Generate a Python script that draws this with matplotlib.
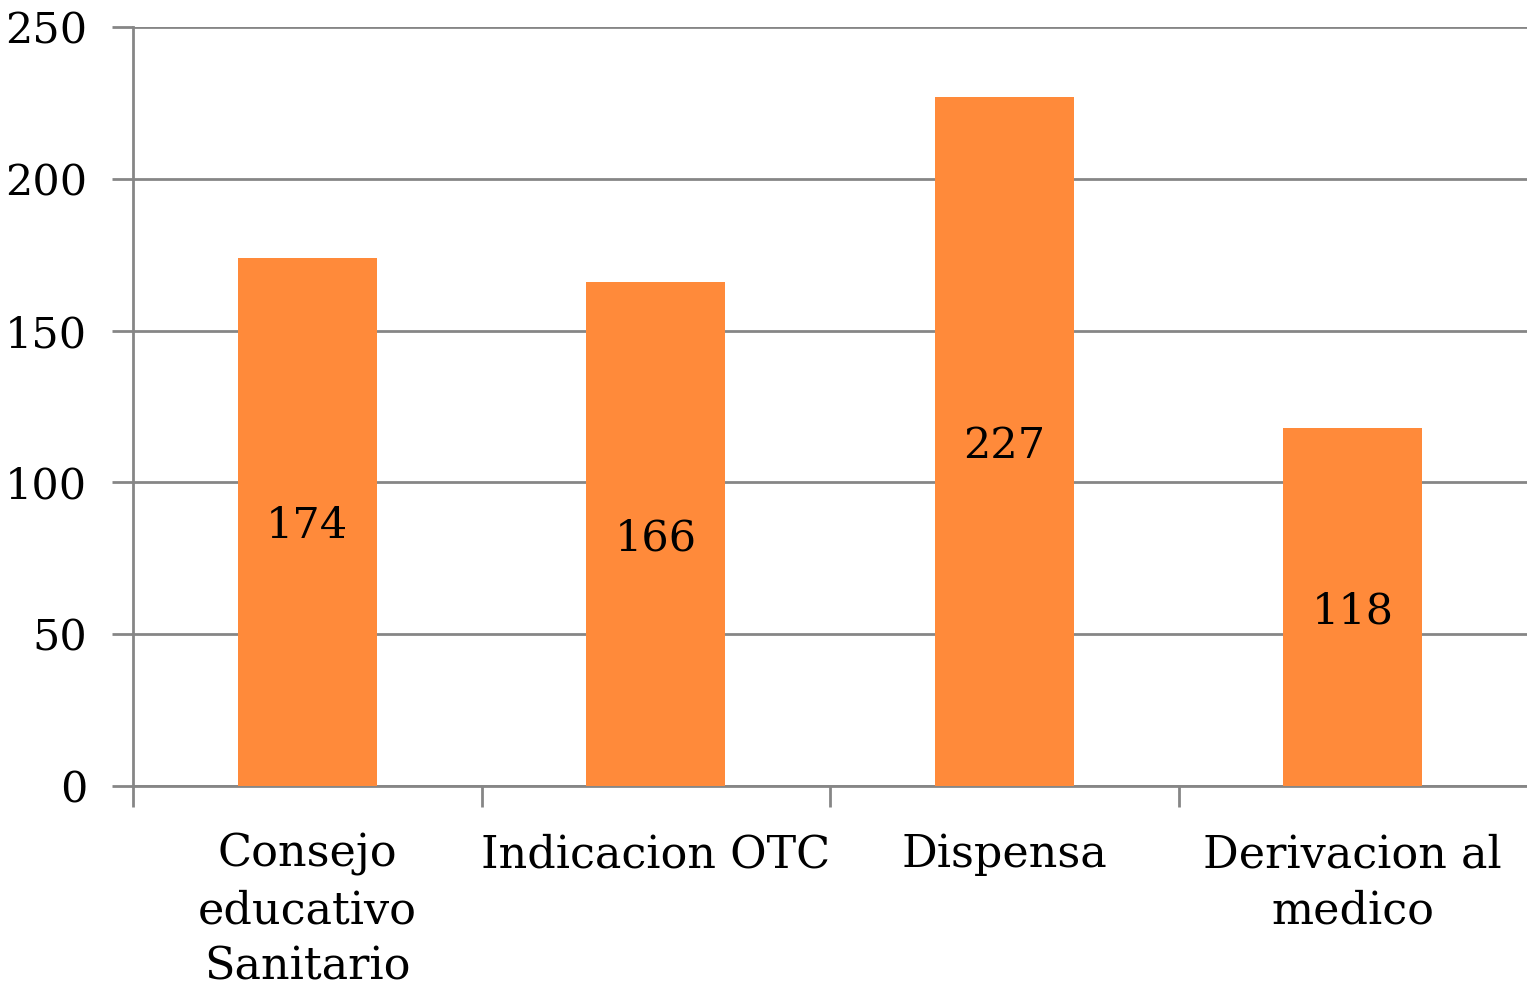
import matplotlib
matplotlib.use('Agg')
import matplotlib.pyplot as plt

categories = ['Consejo\neducativo\nSanitario', 'Indicacion OTC', 'Dispensa', 'Derivacion al\nmedico']
values = [174, 166, 227, 118]

plt.rcParams['font.family'] = ['DejaVu Serif']

bar_color = '#FF8A3A'
grey = '#868686'

fig = plt.figure(figsize=(15.27, 9.89), dpi=100)
ax = fig.add_axes([133 / 1527, 203 / 989, 1 - 133 / 1527, 759 / 989])

x = range(len(categories))
bars = ax.bar(x, values, width=0.4, color=bar_color, zorder=3)
for b, v in zip(bars, values):
    ax.text(b.get_x() + b.get_width() / 2, v / 2, str(v), ha='center', va='center_baseline',
            fontsize=31, zorder=4)

ax.set_xlim(-0.5, 3.5)
ax.set_ylim(0, 250)
ax.set_yticks([0, 50, 100, 150, 200, 250])
ax.yaxis.grid(True, color=grey, linewidth=2, zorder=0)
ax.set_axisbelow(True)

# category labels between boundary ticks
ax.set_xticks([-0.5, 0.5, 1.5, 2.5])
ax.set_xticklabels([])
ax.set_xticks(list(x), minor=True)
ax.set_xticklabels(categories, minor=True, fontsize=32, linespacing=1.38)
ax.tick_params(axis='x', which='minor', length=0, pad=34)
ax.tick_params(axis='x', which='major', length=15, width=2, color=grey)
ax.tick_params(axis='y', length=15, width=2, color=grey, labelsize=31, pad=18)

for s in ['top', 'right']:
    ax.spines[s].set_visible(False)
for s in ['left', 'bottom']:
    ax.spines[s].set_color(grey)
    ax.spines[s].set_linewidth(2)

fig.savefig('out.png', dpi=100)
